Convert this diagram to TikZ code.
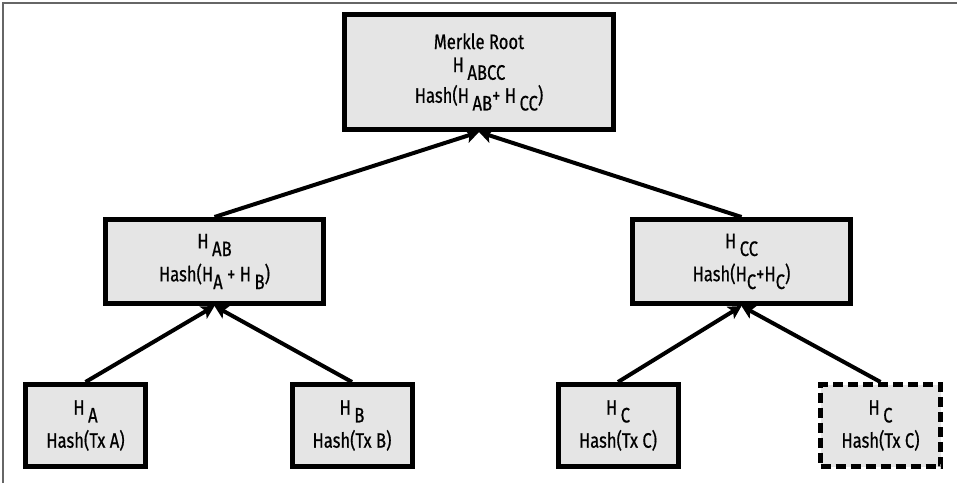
\documentclass[tikz,border=0pt]{standalone}
\usepackage{fontspec}
\setmainfont{Fira Sans}[FakeStretch=0.79,FakeBold=0.6]
\usetikzlibrary{arrows.meta}
\newcommand{\hsub}[1]{\raisebox{-0.7ex}{#1}}
\begin{document}
\begin{tikzpicture}[x=0.5pt,y=-0.5pt,
  hbox/.style={draw,line width=2.5pt,fill=black!10,align=center,inner sep=0pt,
    font=\fontsize{10.5}{16.5}\selectfont},
  rootbox/.style={hbox,minimum width=134.5pt,minimum height=57.5pt,
    font=\fontsize{10.5}{11.5}\selectfont},
  midbox/.style={hbox,minimum width=109pt,minimum height=42pt},
  leafbox/.style={hbox,minimum width=60pt,minimum height=41pt},
  dupbox/.style={leafbox,dash pattern=on 5pt off 2.5pt},
  link/.style={line width=2pt,-{Stealth[length=6.5pt,width=7pt,inset=1.5pt]}}]
 \useasboundingbox (0,0) rectangle (957,483);
 \draw[black!60,line width=0.75pt] (3,483)--(3,3)--(957,3);
 \node[rootbox] (root) at (479,72) {Merkle Root\\H\,\hsub{ABCC}\\[1.5pt]Hash(H\,\hsub{AB}+ H\,\hsub{CC})};
 \node[midbox] (hab) at (214.5,261.5) {H\,\hsub{AB}\\Hash(H\hsub{A} + H\,\hsub{B})};
 \node[midbox] (hcc) at (741.5,261.5) {H\,\hsub{CC}\\Hash(H\hsub{C}+H\hsub{C})};
 \node[leafbox] (ha) at (85.5,425.5) {H\,\hsub{A}\\Hash(Tx A)};
 \node[leafbox] (hb) at (352,425.5) {H\,\hsub{B}\\Hash(Tx B)};
 \node[leafbox] (hc) at (618,425.5) {H\,\hsub{C}\\Hash(Tx C)};
 \node[dupbox] (hcd) at (880.5,425.5) {H\,\hsub{C}\\Hash(Tx C)};
 \draw[link] (hab.north) -- (root.south);
 \draw[link] (hcc.north) -- (root.south);
 \draw[link] (ha.north) -- (hab.south);
 \draw[link] (hb.north) -- (hab.south);
 \draw[link] (hc.north) -- (hcc.south);
 \draw[link] (hcd.north) -- (hcc.south);
\end{tikzpicture}
\end{document}
